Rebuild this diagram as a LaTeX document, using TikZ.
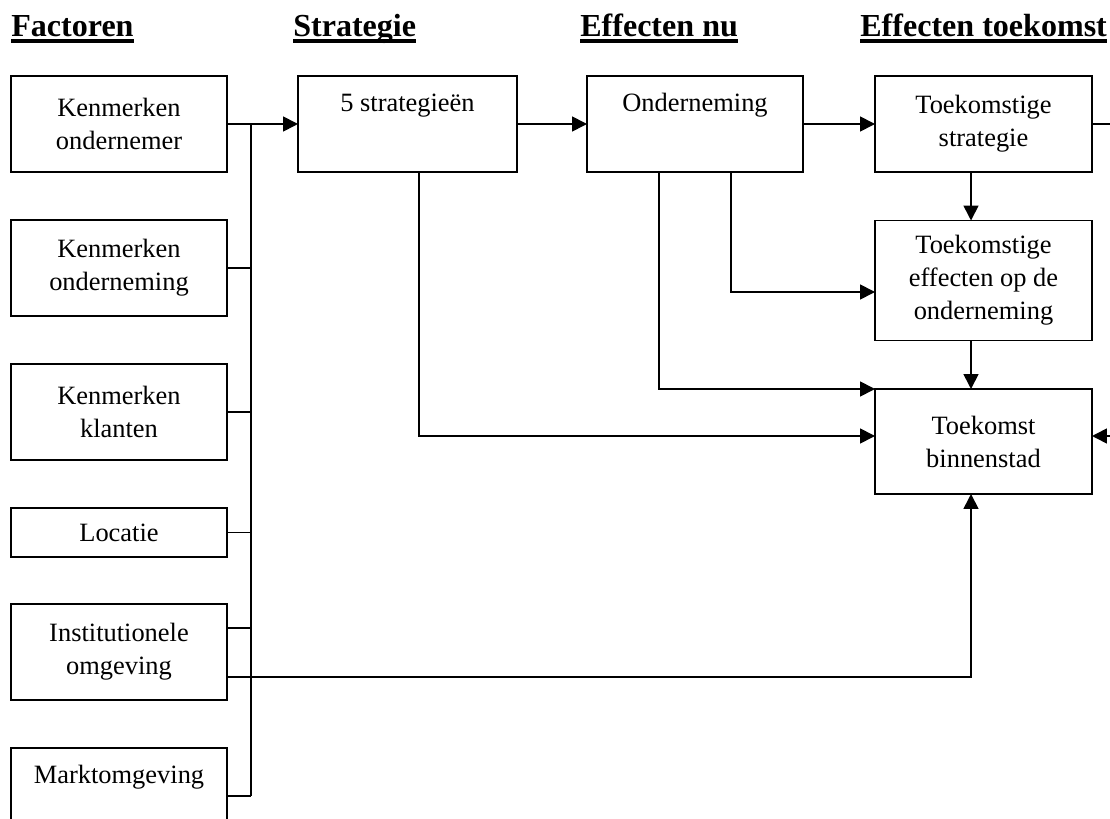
\documentclass[tikz,border=0pt]{standalone}
\usepackage{fontspec}
\setmainfont{Liberation Serif}
\usetikzlibrary{arrows.meta,calc}
\newdimen\px \px=0.025cm
\newcommand{\boxfont}{\fontsize{18.8}{23.5}\selectfont}
\newcommand{\kopfont}{\fontsize{22.8}{27}\selectfont\bfseries}
\newcommand{\kopje}[1]{\setbox0\hbox{#1}\rlap{\rule[-4.3pt]{\wd0}{2.9pt}}\box0}

\begin{document}
\begin{tikzpicture}[
  x=1\px, y=-1\px,
  every node/.style={font=\boxfont},
  blok/.style={draw,rectangle,line width=1.2pt,inner sep=0pt,outer sep=0pt,align=center,minimum width=216\px,minimum height=96\px},
  kop/.style={font=\kopfont,anchor=base west,inner sep=0pt},
  lijn/.style={line width=1.2pt},
  >={Triangle[length=10.5pt,width=10.5pt]}
]
\useasboundingbox (0,0) rectangle (1110,819);
\clip (0,0) rectangle (1110,819);

% kolomkoppen
\node[kop] (h1) at (11,37) {\kopje{Factoren}};
\node[kop] (h2) at (293,37) {\kopje{Strategie}};
\node[kop] (h3) at (580,37) {\kopje{Effecten nu}};
\node[kop] (h4) at (860,37) {\kopje{Effecten toekomst}};

% factoren
\node[blok] (ken1) at (119,124) {Kenmerken\\ondernemer};
\node[blok] (ken2) at (119,268) {Kenmerken\\onderneming};
\node[blok] (ken3) at (119,412) {Kenmerken\\klanten};
\node[blok,minimum height=49\px] (loc) at (119,532.5) {Locatie};
\node[blok] (inst) at (119,652) {Institutionele\\omgeving};
\node[blok] (markt) at (119,796) {Marktomgeving\\\strut};

% strategie en effecten
\node[blok,minimum width=219\px] (strat) at (407.5,124) {5 strategieën\\\strut};
\node[blok] (ond) at (695,124) {Onderneming\\\strut};
\node[blok,minimum width=217\px] (tstrat) at (983.5,124) {Toekomstige\\strategie};
\node[blok,minimum width=217\px,minimum height=120\px] (teff) at (983.5,280.5) {Toekomstige\\effecten op de\\onderneming};
\node[blok,minimum width=217\px,minimum height=105\px] (tbin) at (983.5,441.5) {Toekomst\\binnenstad};

% verzamellijn
\draw[lijn,->] (ken1) -- (strat);
\draw[lijn] ($(ken1.east)+(24,0)$) -- ($(markt.east)+(24,0)$);
\foreach \b in {ken2,ken3,loc,markt}
  \draw[lijn] (\b.east) -- ++(24,0);
\draw[lijn] ($(inst.east)+(0,-24)$) -- ++(24,0);
\draw[lijn,->] ($(inst.east)+(0,25)$) -| ($(tbin.south)+(-12.5,0)$);

\draw[lijn,->] (strat) -- (ond);
\draw[lijn,->] (ond) -- (tstrat);
\draw[lijn,->] ($(tstrat.south)+(-12.5,0)$) -- ($(teff.north)+(-12.5,0)$);
\draw[lijn,->] ($(teff.south)+(-12.5,0)$) -- ($(tbin.north)+(-12.5,0)$);
\draw[lijn,->] ($(ond.south)+(36,0)$) |- ($(teff.west)+(0,11.5)$);
\draw[lijn,->] ($(ond.south)+(-36,0)$) |- (tbin.north west);
\draw[lijn,->] ($(strat.south)+(11.5,0)$) |- ($(tbin.west)+(0,-5.5)$);
\draw[lijn,->] (tstrat.east) -- ++(40,0) |- ($(tbin.east)+(0,-5.5)$);

\end{tikzpicture}
\end{document}
